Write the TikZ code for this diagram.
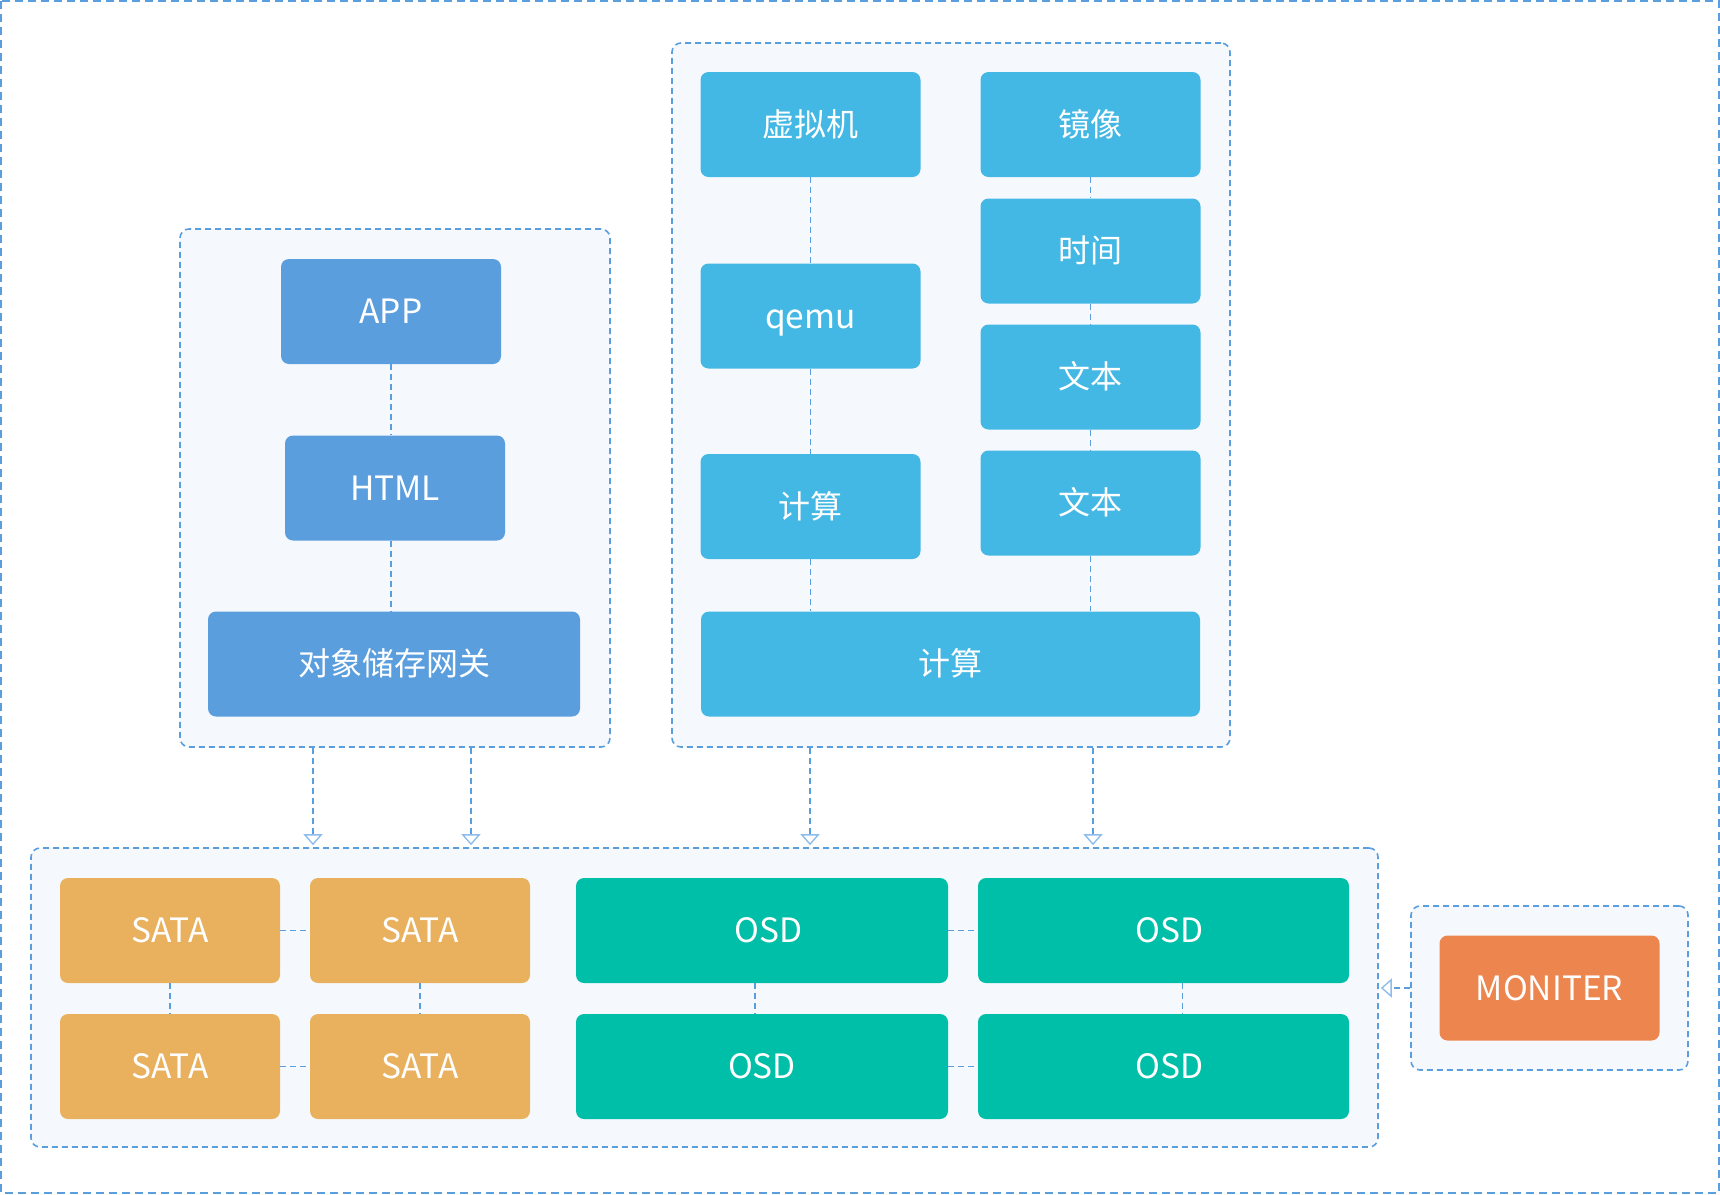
\documentclass[tikz,border=0pt]{standalone}
\usepackage{fontspec}
\setmainfont{Noto Sans CJK SC}
\usetikzlibrary{arrows.meta,calc}
\definecolor{lineblue}{HTML}{5A9EDE}
\definecolor{tipblue}{HTML}{8FBDEB}
\definecolor{groupfill}{HTML}{F5F9FE}
\definecolor{appblue}{HTML}{5A9EDE}
\definecolor{skyblue}{HTML}{44B8E4}
\definecolor{sata}{HTML}{E9B05E}
\definecolor{osd}{HTML}{00BFA8}
\definecolor{mon}{HTML}{ED864E}
\tikzset{
  x=1pt, y=-1pt,
  box/.style={rounded corners=8pt, inner sep=0pt, text=white,
    font=\fontsize{32}{36}\selectfont, text height=23.5pt, text depth=0pt,
    minimum width=220pt, minimum height=105pt},
  latin/.style={font=\fontsize{33.5}{36}\selectfont, text height=24.5pt},
  group/.style={draw=lineblue, fill=groupfill, line width=1.6pt,
    dash pattern=on 6pt off 4pt, rounded corners=9pt, inner sep=0pt},
  conn/.style={draw=lineblue, line width=1.7pt, dash pattern=on 6pt off 4pt},
  arr/.style={conn, -{Triangle[open, width=19pt, length=11pt, line width=1.4pt, color=tipblue]}, shorten >=2pt},
}
\begin{document}
\begin{tikzpicture}
\useasboundingbox (0,0) rectangle (1720,1194);
% outer frame
\draw[conn, line width=2pt, dash pattern=on 8pt off 5pt] (1,1) rectangle (1719,1193);

% groups
\node[group, minimum width=430pt, minimum height=518pt] (lg) at (395,488) {};
\node[group, minimum width=558pt, minimum height=704pt] (rg) at (951,395) {};
\node[group, minimum width=1347pt, minimum height=299pt] (bg) at (704.5,997.5) {};
\node[group, minimum width=277pt, minimum height=164pt] (mg) at (1549.5,988) {};

% object storage stack
\node[box, latin, fill=appblue] (app) at (391,311.5) {APP};
\node[box, latin, fill=appblue] (html) at (395,488) {HTML};
\node[box, fill=appblue, minimum width=372pt] (gw) at (394,664) {对象储存网关};

% compute stack
\node[box, fill=skyblue] (vm) at (810.5,124.5) {虚拟机};
\node[box, latin, fill=skyblue] (qemu) at (810.5,316) {qemu};
\node[box, fill=skyblue] (calc) at (810.5,506.5) {计算};
\node[box, fill=skyblue] (img) at (1090.5,124.5) {镜像};
\node[box, fill=skyblue] (time) at (1090.5,251) {时间};
\node[box, fill=skyblue] (txta) at (1090.5,377) {文本};
\node[box, fill=skyblue] (txtb) at (1090.5,503) {文本};
\node[box, fill=skyblue, minimum width=499pt] (calcw) at (950.5,664) {计算};

% storage layer
\node[box, latin, fill=sata] (s1) at (170,930.5) {SATA};
\node[box, latin, fill=sata] (s2) at (420,930.5) {SATA};
\node[box, latin, fill=sata] (s3) at (170,1066.5) {SATA};
\node[box, latin, fill=sata] (s4) at (420,1066.5) {SATA};
\node[box, latin, fill=osd, minimum width=372pt] (o1) at (762,930.5) {\hspace*{13pt}OSD};
\node[box, latin, fill=osd, minimum width=371pt] (o2) at (1163.5,930.5) {\hspace*{12pt}OSD};
\node[box, latin, fill=osd, minimum width=372pt] (o3) at (762,1066.5) {OSD};
\node[box, latin, fill=osd, minimum width=371pt] (o4) at (1163.5,1066.5) {\hspace*{12pt}OSD};

% monitor
\node[box, latin, fill=mon] (mon) at (1549.5,988) {MONITER};

% links inside the object storage stack
\draw[conn] (app.south) -- (app.south |- html.north);
\draw[conn] (app.south |- html.south) -- (app.south |- gw.north);

% links inside the compute stack
\draw[conn] (vm) -- (qemu);
\draw[conn] (qemu) -- (calc);
\draw[conn] (calc.south) -- (calc.south |- calcw.north);
\draw[conn] (img) -- (time);
\draw[conn] (time) -- (txta);
\draw[conn] (txta) -- (txtb);
\draw[conn] (txtb.south) -- (txtb.south |- calcw.north);

% links inside the storage layer
\draw[conn] (s1) -- (s2);
\draw[conn] (s3) -- (s4);
\draw[conn] (s1) -- (s3);
\draw[conn] (s2) -- (s4);
\draw[conn] (o1) -- (o2);
\draw[conn] (o3) -- (o4);
\draw[conn] ([xshift=-7pt]o1.south) -- ([xshift=-7pt]o1.south |- o3.north);
\draw[conn] ([xshift=19pt]o2.south) -- ([xshift=19pt]o2.south |- o4.north);

% arrows down to the storage layer
\draw[arr] ([xshift=-82pt]lg.south) -- ([xshift=-82pt]lg.south |- bg.north);
\draw[arr] ([xshift=76pt]lg.south) -- ([xshift=76pt]lg.south |- bg.north);
\draw[arr] ([xshift=-141pt]rg.south) -- ([xshift=-141pt]rg.south |- bg.north);
\draw[arr] ([xshift=142pt]rg.south) -- ([xshift=142pt]rg.south |- bg.north);

% monitor watching the storage layer
\draw[arr] (mg.west) -- (mg.west -| bg.east);
\end{tikzpicture}
\end{document}
